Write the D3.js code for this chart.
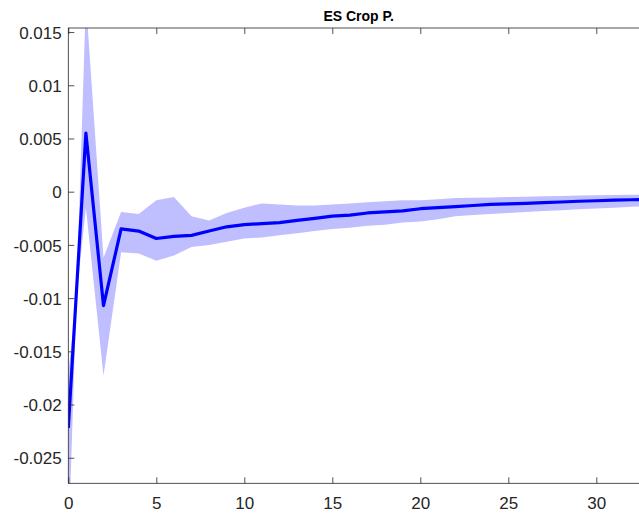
<!DOCTYPE html>
<html><head><meta charset="utf-8">
<script src="https://cdn.jsdelivr.net/npm/d3@7"></script>
<style>
body{margin:0;background:#fff}
svg{display:block}
text{font-family:"Liberation Sans",Arial,Helvetica,sans-serif}
</style>
</head><body>
<svg id="c" width="639" height="520"></svg>
<script>
const title = "ES Crop P.";
const horizons = [0,1,2,3,4,5,6,7,8,9,10,11,12,13,14,15,16,17,18,19,20,21,22,23,24,25,26,27,28,29,30,31,32,33];
const irf = [-0.0222,0.0055,-0.0107,-0.0035,-0.0037,-0.0044,-0.0042,-0.0041,-0.0037,-0.0033,-0.0031,-0.0030,-0.0029,-0.0027,-0.0025,-0.0023,-0.0022,-0.0020,-0.0019,-0.0018,-0.0016,-0.0015,-0.0014,-0.0013,-0.0012,-0.00115,-0.0011,-0.00103,-0.00097,-0.0009,-0.00085,-0.0008,-0.00076,-0.00072];
const bandUpper = [-0.034,0.018,-0.0062,-0.0019,-0.0021,-0.0008,-0.0005,-0.0023,-0.0027,-0.0020,-0.0015,-0.0011,-0.0012,-0.0013,-0.0013,-0.0012,-0.0011,-0.0010,-0.0009,-0.0008,-0.0008,-0.0007,-0.0006,-0.00057,-0.00054,-0.0005,-0.00047,-0.00044,-0.0004,-0.00037,-0.00034,-0.00031,-0.00029,-0.00027];
const bandLower = [-0.0171,-0.0015,-0.0173,-0.0057,-0.0058,-0.0065,-0.0060,-0.0052,-0.0050,-0.0047,-0.0044,-0.0043,-0.0041,-0.0039,-0.0037,-0.0035,-0.0034,-0.0032,-0.0031,-0.0029,-0.0028,-0.0026,-0.0023,-0.0022,-0.0021,-0.0020,-0.0019,-0.00182,-0.00174,-0.00166,-0.00158,-0.0015,-0.00142,-0.00136];
const xTicks = [0,5,10,15,20,25,30];
const xTickLabels = ["0","5","10","15","20","25","30"];
const yTicks = [-0.025,-0.02,-0.015,-0.01,-0.005,0,0.005,0.01,0.015];
const yTickLabels = ["-0.025","-0.02","-0.015","-0.01","-0.005","0","0.005","0.01","0.015"];

const L = 68.3, R = 649.1, T = 28, B = 483.3;
const svg = d3.select("#c");
svg.append("rect").attr("width",639).attr("height",520).attr("fill","#fff");

const x = d3.scaleLinear().domain([0,33]).range([L,R]);
const y = d3.scaleLinear().domain([-0.0274,0.01538]).range([B,T]);

svg.append("clipPath").attr("id","clip").append("rect")
  .attr("x",L).attr("y",T).attr("width",R-L).attr("height",B-T);

const data = horizons.map((h,i)=>({h, m:irf[i], u:bandUpper[i], l:bandLower[i]}));
const g = svg.append("g").attr("clip-path","url(#clip)");
g.append("path").datum(data)
  .attr("fill","rgb(191,191,255)")
  .attr("stroke","none")
  .attr("d", d3.area().x(d=>x(d.h)).y0(d=>y(d.l)).y1(d=>y(d.u)));
g.append("path").datum(data)
  .attr("fill","none").attr("stroke","#0000ff").attr("stroke-width",3.2)
  .attr("stroke-linejoin","round")
  .attr("d", d3.line().x(d=>x(d.h)).y(d=>y(d.m)));

const axColor = "#262626";
function style(sel){
  sel.select(".domain").remove();
  sel.selectAll(".tick line").attr("stroke",axColor).attr("stroke-width",0.8);
  sel.selectAll(".tick text").attr("fill",axColor).attr("font-size",17);
}
svg.append("g").attr("transform",`translate(0,${B})`)
  .call(d3.axisBottom(x).tickValues(xTicks).tickSize(-6).tickPadding(13.7)
    .tickFormat((d,i)=>xTickLabels[i])).call(style);
svg.append("g").attr("transform",`translate(0,${T})`)
  .call(d3.axisTop(x).tickValues(xTicks).tickSize(-6).tickFormat("")).call(style);
svg.append("g").attr("transform",`translate(${L},0)`)
  .call(d3.axisLeft(y).tickValues(yTicks).tickSize(-6).tickPadding(6.6)
    .tickFormat((d,i)=>yTickLabels[i])).call(style)
  .selectAll(".tick text").attr("dy","0.36em");
svg.append("g").attr("transform",`translate(${R},0)`)
  .call(d3.axisRight(y).tickValues(yTicks).tickSize(-6).tickFormat("")).call(style);

svg.append("rect").attr("x",L).attr("y",T).attr("width",R-L).attr("height",B-T)
  .attr("fill","none").attr("stroke",axColor).attr("stroke-width",0.8);

svg.append("text").attr("x",(L+R)/2).attr("y",20.7).attr("text-anchor","middle")
  .attr("font-size",14).attr("font-weight","bold").attr("fill","#000").text(title);
</script>
</body></html>
